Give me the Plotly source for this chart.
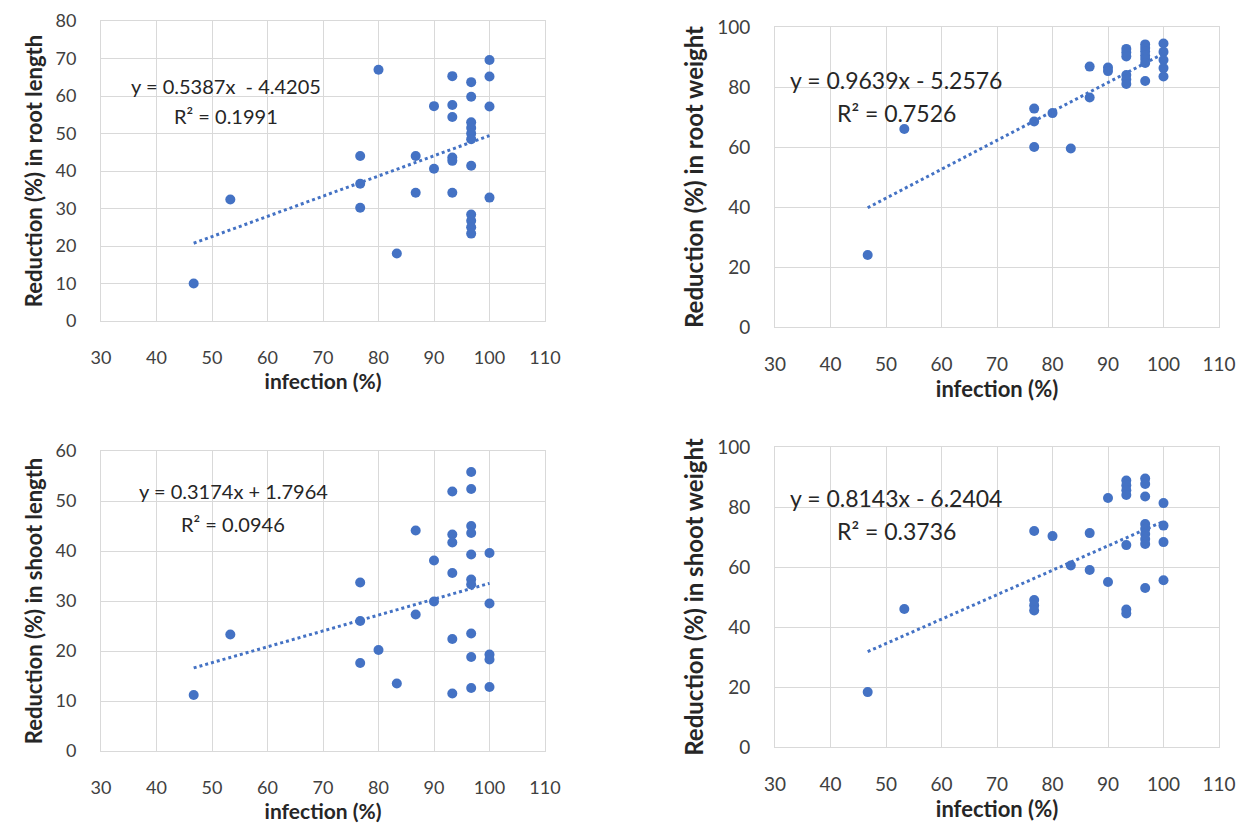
import plotly.graph_objects as go

W, H = 1248, 824

# ---------------- data ----------------
# Panel 1: root length
inf_root_len = [46.7, 53.3, 76.7, 76.7, 76.7, 80.0, 83.3, 86.7, 86.7, 90.0, 90.0,
                93.3, 93.3, 93.3, 93.3, 93.3, 93.3,
                96.7, 96.7, 96.7, 96.7, 96.7, 96.7, 96.7, 96.7, 96.7, 96.7, 96.7,
                100.0, 100.0, 100.0, 100.0]
red_root_len = [10.0, 32.4, 44.0, 36.6, 30.2, 67.0, 18.0, 44.0, 34.2, 57.3, 40.6,
                65.3, 57.6, 54.4, 43.6, 42.7, 34.2,
                63.7, 59.8, 53.0, 51.5, 50.0, 48.5, 41.4, 28.4, 26.7, 25.0, 23.3,
                69.6, 65.2, 57.2, 32.9]

# Panel 2: root weight
inf_root_wt = [46.7, 53.3, 76.7, 76.7, 76.7, 80.0, 83.3, 86.7, 86.7, 90.0, 90.0,
               93.3, 93.3, 93.3, 93.3, 93.3, 93.3,
               96.7, 96.7, 96.7, 96.7, 96.7, 96.7, 96.7,
               100.0, 100.0, 100.0, 100.0, 100.0]
red_root_wt = [24.0, 66.0, 72.8, 68.5, 60.0, 71.3, 59.5, 86.8, 76.5, 86.5, 85.3,
               92.7, 91.5, 90.2, 84.0, 82.5, 81.0,
               94.2, 93.0, 91.8, 90.5, 89.3, 88.0, 82.0,
               94.5, 91.7, 89.0, 86.3, 83.5]

# Panel 3: shoot length
inf_shoot_len = [46.7, 53.3, 76.7, 76.7, 76.7, 80.0, 83.3, 86.7, 86.7, 90.0, 90.0,
                 93.3, 93.3, 93.3, 93.3, 93.3, 93.3,
                 96.7, 96.7, 96.7, 96.7, 96.7, 96.7, 96.7, 96.7, 96.7, 96.7,
                 100.0, 100.0, 100.0, 100.0, 100.0]
red_shoot_len = [11.2, 23.3, 33.7, 26.0, 17.6, 20.2, 13.5, 44.1, 27.3, 38.1, 29.9,
                 51.9, 43.3, 41.7, 35.6, 22.4, 11.5,
                 55.8, 52.4, 45.0, 43.6, 39.3, 34.3, 33.3, 23.5, 18.8, 12.6,
                 39.6, 29.5, 19.3, 18.3, 12.8]

# Panel 4: shoot weight
inf_shoot_wt = [46.7, 53.3, 76.7, 76.7, 76.7, 76.7, 80.0, 83.3, 86.7, 86.7, 90.0, 90.0,
                93.3, 93.3, 93.3, 93.3, 93.3, 93.3, 93.3,
                96.7, 96.7, 96.7, 96.7, 96.7, 96.7, 96.7, 96.7, 96.7,
                100.0, 100.0, 100.0, 100.0]
red_shoot_wt = [18.3, 46.0, 72.0, 49.0, 47.2, 45.5, 70.3, 60.5, 71.3, 59.0, 83.0, 55.0,
                88.8, 87.2, 85.6, 84.0, 67.3, 45.8, 44.5,
                89.5, 87.7, 83.5, 74.3, 72.7, 71.0, 69.3, 67.7, 53.0,
                81.3, 73.8, 68.3, 55.6]

# trendline equations as printed on the chart
trend_slopes = [0.5387, 0.9639, 0.3174, 0.8143]
trend_intercepts = [-4.4205, -5.2576, 1.7964, -6.2404]
eq_labels = ["y = 0.5387x  - 4.4205", "y = 0.9639x - 5.2576",
             "y = 0.3174x + 1.7964", "y = 0.8143x - 6.2404"]
r2_labels = ["R² = 0.1991", "R² = 0.7526", "R² = 0.0946", "R² = 0.3736"]
y_titles = ["Reduction (%) in root length", "Reduction (%) in root weight",
            "Reduction (%) in shoot length", "Reduction (%) in shoot weight"]
x_title = "infection (%)"
x_range = [30, 110]
x_tick_step = 10
y_ranges = [[0, 80], [0, 100], [0, 60], [0, 100]]
y_tick_steps = [10, 20, 10, 20]

# ---------------- layout geometry (pixels) ----------------
boxes = [  # (left, right, top, bottom)
    (93, 537, 13, 313),
    (767, 1211, 19, 319),
    (93, 537, 443, 743),
    (767, 1211, 439, 739),
]
eq_pos = [(218, 78, 108), (888, 72, 105), (225, 483, 516), (888, 490, 523)]
tick_sizes = [18, 19, 18, 19]
ytitle_sizes = [22, 24, 22, 24]
xtitle_sizes = [21, 22, 21, 22]
eq_sizes = [20, 23, 20, 23]

BLUE = "#4472C4"
FONT = "Lato"
TXT = "#404040"
DARK = "#262626"

series = [(inf_root_len, red_root_len), (inf_root_wt, red_root_wt),
          (inf_shoot_len, red_shoot_len), (inf_shoot_wt, red_shoot_wt)]

fig = go.Figure()
for i, (xs, ys) in enumerate(series):
    ax = "" if i == 0 else str(i + 1)
    fig.add_trace(go.Scatter(x=xs, y=ys, mode="markers", xaxis="x" + ax, yaxis="y" + ax,
                             marker=dict(color=BLUE, size=10, line=dict(width=0)),
                             showlegend=False))
    x0, x1 = min(xs), max(xs)
    fig.add_trace(go.Scatter(x=[x0, x1],
                             y=[trend_slopes[i] * x0 + trend_intercepts[i],
                                trend_slopes[i] * x1 + trend_intercepts[i]],
                             mode="lines", xaxis="x" + ax, yaxis="y" + ax,
                             line=dict(color=BLUE, width=3, dash="dot"),
                             showlegend=False))

layout = dict(width=W, height=H, margin=dict(l=0, r=0, t=0, b=0),
              paper_bgcolor="white", plot_bgcolor="white",
              font=dict(family=FONT, color=TXT, size=18))
annotations = []
for i, (l, r, t, b) in enumerate(boxes):
    sfx = "" if i == 0 else str(i + 1)
    layout["xaxis" + sfx] = dict(
        domain=[l / W, r / W], range=x_range, dtick=x_tick_step, tick0=30,
        anchor="y" + sfx, showgrid=True, gridcolor="#d9d9d9", gridwidth=1,
        showline=True, mirror=True, linecolor="#d9d9d9", linewidth=1,
        zeroline=False, ticks="", ticklabelstandoff=20, automargin=False,
        tickfont=dict(size=tick_sizes[i], color=TXT, family=FONT),
        title=dict(text="<b>" + x_title + "</b>", standoff=6,
                   font=dict(size=xtitle_sizes[i], color=DARK, family=FONT)))
    layout["yaxis" + sfx] = dict(
        domain=[1 - b / H, 1 - t / H], range=y_ranges[i], dtick=y_tick_steps[i], tick0=0,
        anchor="x" + sfx, showgrid=True, gridcolor="#d9d9d9", gridwidth=1,
        showline=True, mirror=True, linecolor="#d9d9d9", linewidth=1,
        zeroline=False, ticks="", ticklabelstandoff=20, automargin=False,
        tickfont=dict(size=tick_sizes[i], color=TXT, family=FONT),
        title=dict(text="<b>" + y_titles[i] + "</b>", standoff=6,
                   font=dict(size=ytitle_sizes[i], color=DARK, family=FONT)))
    cx, ey, ry = eq_pos[i]
    annotations.append(dict(text=eq_labels[i], x=cx / W, y=1 - ey / H, xref="paper", yref="paper",
                            showarrow=False, xanchor="center", yanchor="middle",
                            font=dict(size=eq_sizes[i], color=DARK, family=FONT)))
    annotations.append(dict(text=r2_labels[i], x=cx / W, y=1 - ry / H, xref="paper", yref="paper",
                            showarrow=False, xanchor="center", yanchor="middle",
                            font=dict(size=eq_sizes[i], color=DARK, family=FONT)))
layout["annotations"] = annotations
fig.update_layout(**layout)
fig.write_html("out.html")
